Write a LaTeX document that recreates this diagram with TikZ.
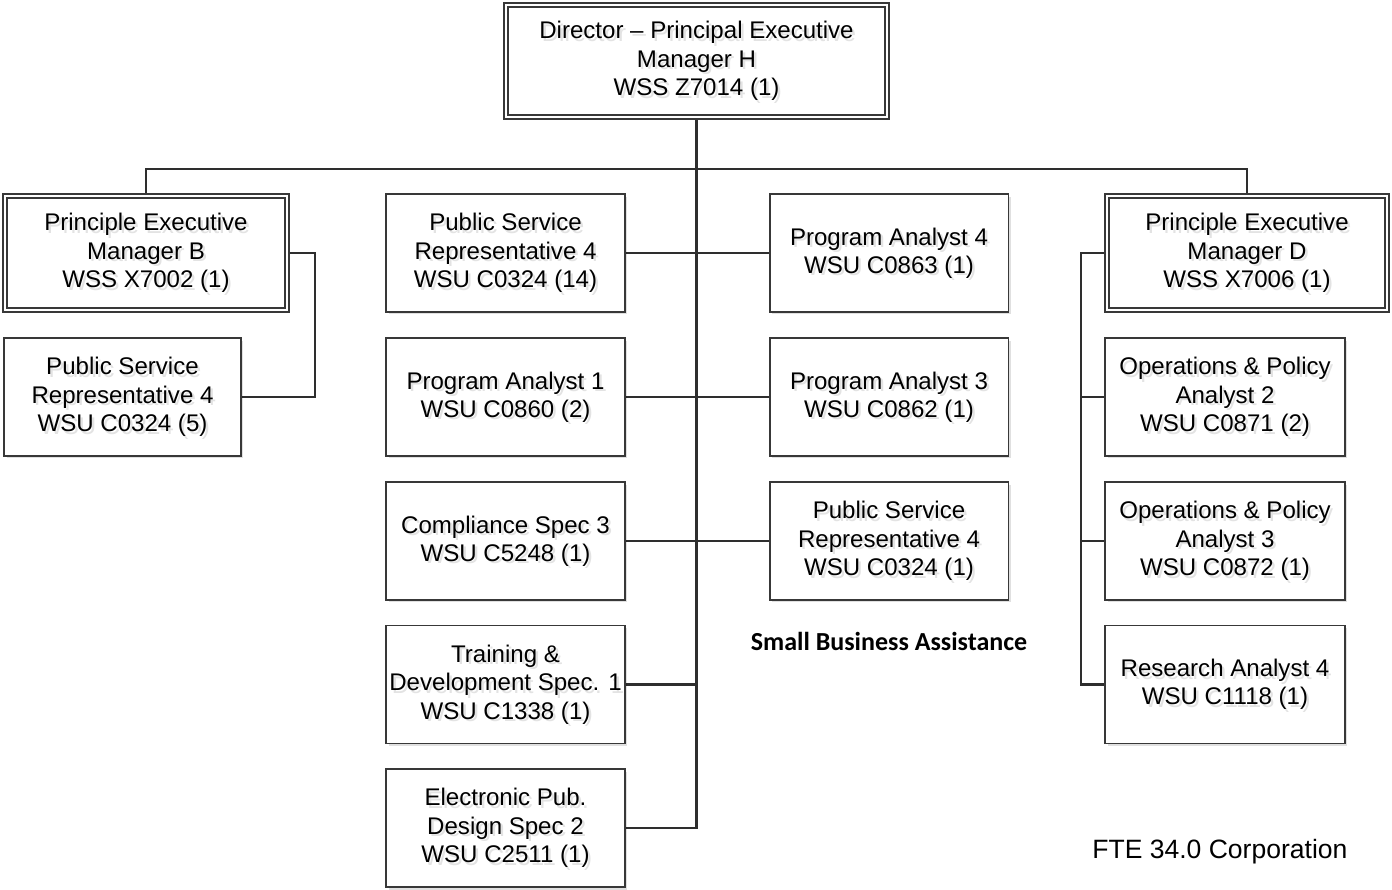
\documentclass[tikz,border=0pt]{standalone}
\usepackage{fontspec}
\setmainfont{Liberation Sans}
\newfontfamily\calibrifont{Carlito}
\usetikzlibrary{shadows,backgrounds}

\tikzset{
  boxline/.style={draw=black!78, line width=1.1pt},
  orgbox/.style={boxline, fill=white, minimum width=4.78cm, minimum height=2.36cm,
    inner sep=0pt,
    drop shadow={shadow xshift=0.05cm, shadow yshift=-0.05cm, opacity=0.12, fill=black}},
  headbox/.style={orgbox, line width=0.9pt, double=white, double distance=1.6pt},
  boxtext/.style={align=center, font=\fontsize{13.7}{16.2}\selectfont, inner sep=0pt, text=black},
  ghost/.style={boxtext, text=black!11},
  conn/.style={draw=black!82, line width=1.3pt},
}

% one position box: frame, soft text shadow, then the text itself
\newcommand\orgunit[4]{%
  \node[#2] (#1) at (#3) {};
  \node[ghost] (#1-g) at ([shift={(0.05cm,-0.05cm)}]#1.center) {#4};
  \node[boxtext] (#1-t) at (#1.center) {#4};
}

\begin{document}
\begin{tikzpicture}[x=0.02cm, y=-0.02cm]
\useasboundingbox (0,0) rectangle (1392,889);

% director
\orgunit{top}{headbox, minimum width=7.62cm, minimum height=2.24cm}{696.5,61}
  {Director -- Principal Executive\\Manager H\\WSS Z7014 (1)}

% left branch
\orgunit{pemB}{headbox, minimum width=5.64cm, minimum height=2.28cm}{146,253}
  {Principle Executive\\Manager B\\WSS X7002 (1)}
\orgunit{psr5}{orgbox, minimum width=4.74cm}{122.5,397}
  {Public Service\\Representative 4\\WSU C0324 (5)}

% centre column
\orgunit{psr14}{orgbox}{505.5,253}{Public Service\\Representative 4\\WSU C0324 (14)}
\orgunit{pa1}{orgbox}{505.5,397}{Program Analyst 1\\WSU C0860 (2)}
\orgunit{comp}{orgbox}{505.5,541}{Compliance Spec 3\\WSU C5248 (1)}
\orgunit{train}{orgbox}{505.5,684.5}{Training \&\\Development Spec. 1\\WSU C1338 (1)}
\orgunit{elec}{orgbox}{505.5,828}{Electronic Pub.\\Design Spec 2\\WSU C2511 (1)}

% small business assistance column
\orgunit{pa4}{orgbox}{889,253}{Program Analyst 4\\WSU C0863 (1)}
\orgunit{pa3}{orgbox}{889,397}{Program Analyst 3\\WSU C0862 (1)}
\orgunit{psr1}{orgbox}{889,541}{Public Service\\Representative 4\\WSU C0324 (1)}
\node[font=\calibrifont\bfseries\fontsize{14.8}{17}\selectfont] (sba) at (889,641)
  {Small Business Assistance};

% right branch
\orgunit{pemD}{headbox, minimum width=5.6cm, minimum height=2.28cm}{1247,253}
  {Principle Executive\\Manager D\\WSS X7006 (1)}
\orgunit{opa2}{orgbox, minimum width=4.8cm}{1225,397}{Operations \& Policy\\Analyst 2\\WSU C0871 (2)}
\orgunit{opa3}{orgbox, minimum width=4.8cm}{1225,541}{Operations \& Policy\\Analyst 3\\WSU C0872 (1)}
\orgunit{ra4}{orgbox, minimum width=4.8cm}{1225,684.5}{Research Analyst 4\\WSU C1118 (1)}

\node[font=\fontsize{15.1}{17}\selectfont, anchor=west, inner sep=0pt] (fte) at (1092,852)
  {FTE 34.0 Corporation};

% connectors
\coordinate (bus) at (697,169);
\coordinate (jB) at (315,253);
\coordinate (jD) at (1081,253);
\begin{scope}[on background layer]
  \draw[conn] (top.south) |- (elec.east);
  \draw[conn] (pemB.north) -- (pemB.north |- bus) -- (pemD.north |- bus) -- (pemD.north);
  \draw[conn] (pemB.east) -- (jB) |- (psr5.east);
  \draw[conn] (psr14.east) -- (pa4.west);
  \draw[conn] (pa1.east) -- (pa3.west);
  \draw[conn] (comp.east) -- (psr1.west);
  \draw[conn] (train.east) -- (train.east -| bus);
  \draw[conn] (pemD.west) -- (jD) |- (ra4.west);
  \draw[conn] (jD |- opa2.west) -- (opa2.west);
  \draw[conn] (jD |- opa3.west) -- (opa3.west);
\end{scope}
\end{tikzpicture}
\end{document}
